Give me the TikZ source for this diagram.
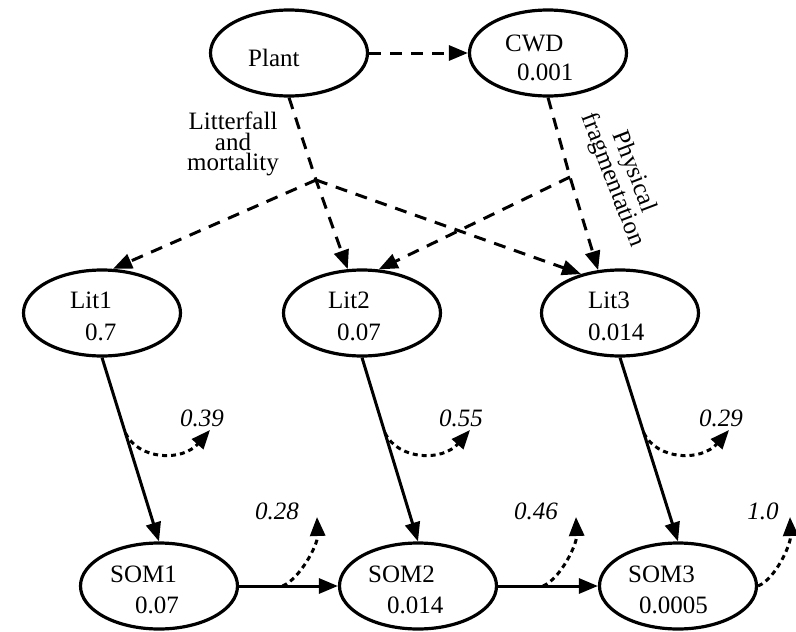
\documentclass[tikz,border=0pt]{standalone}
\usepackage{fontspec}
\setmainfont{Liberation Serif}
\usetikzlibrary{arrows.meta,shapes.geometric}
\begin{document}
\begin{tikzpicture}[x=1pt,y=-1pt,
  pool/.style={draw,ellipse,line width=3.2pt,minimum width=157pt,minimum height=86pt,inner sep=0pt},
  txt/.style={anchor=base west,inner sep=0pt,font=\fontsize{25}{30}\selectfont},
  num/.style={inner sep=0pt,font=\fontsize{25}{30}\selectfont\itshape},
  tipped/.style={-{Triangle[length=19pt,width=15pt]}},
  flux/.style={tipped,line width=3pt},
  transfer/.style={tipped,line width=3pt,dash pattern=on 12pt off 9pt},
  loss/.style={tipped,line width=3pt,dash pattern=on 5pt off 4pt}]
\useasboundingbox (0,0) rectangle (796,632);

% carbon pools
\node[pool] (plant) at (289,53) {};
\node[pool] (cwd)   at (548,53) {};
\node[pool] (lit1)  at (102,313) {};
\node[pool] (lit2)  at (362,313) {};
\node[pool] (lit3)  at (620,313) {};
\node[pool] (som1)  at (159,586) {};
\node[pool] (som2)  at (418,586) {};
\node[pool] (som3)  at (678,586) {};

% pool names and turnover rates
\node[txt] (plantA) at (248,66) {Plant};
\node[txt] (cwdA)  at (505,51) {CWD};
\node[txt] (cwdB)  at (517,80) {0.001};
\node[txt] (lit1A) at (70,308) {Lit1};
\node[txt] (lit1B) at (85,340) {0.7};
\node[txt] (lit2A) at (328,308) {Lit2};
\node[txt] (lit2B) at (337,340) {0.07};
\node[txt] (lit3A) at (588,308) {Lit3};
\node[txt] (lit3B) at (588,340) {0.014};
\node[txt] (som1A) at (110,582) {SOM1};
\node[txt] (som1B) at (135,613) {0.07};
\node[txt] (som2A) at (368,582) {SOM2};
\node[txt] (som2B) at (387,613) {0.014};
\node[txt] (som3A) at (628,582) {SOM3};
\node[txt] (som3B) at (639,613) {0.0005};

% litter inputs
\coordinate (j1) at (316,180);
\coordinate (j2) at (570,177);
\draw[transfer] (plant.east) -- (cwd.west);
\draw[transfer] (plant.south) -- (j1) -- (lit2.108);
\draw[transfer] (j1) -- (lit1.76);
\draw[transfer] (j1) -- (lit3.135);
\draw[transfer] (cwd.south) -- (j2) -- (lit3.117);
\draw[transfer] (j2) -- (lit2.69);

\node[align=center,inner sep=0pt,font=\fontsize{25}{20.5}\selectfont] (litter) at (233,144) {Litterfall\\and\\mortality};
\node[rotate=-69,align=center,inner sep=0pt,font=\fontsize{25}{23}\selectfont] (frag) at (623,176) {Physical\\fragmentation};

% decomposition fluxes
\draw[flux] (lit1.south) -- coordinate[pos=0.41] (b1) (som1.north);
\draw[flux] (lit2.south) -- coordinate[pos=0.41] (b2) (som2.north);
\draw[flux] (lit3.south) -- coordinate[pos=0.41] (b3) (som3.north);
\draw[flux] (som1.east) -- coordinate[pos=0.44] (c1) (som2.west);
\draw[flux] (som2.east) -- coordinate[pos=0.45] (c2) (som3.west);
\coordinate (c3) at (som3.east);

% respired fractions
\coordinate (t1) at (210,430);
\coordinate (t2) at (470,430);
\coordinate (t3) at (729,430);
\draw[loss] (b1) .. controls +(13,27) and +(-28,32) .. (t1);
\draw[loss] (b2) .. controls +(13,27) and +(-28,32) .. (t2);
\draw[loss] (b3) .. controls +(13,27) and +(-28,32) .. (t3);
\node[num] (r1) at (202,418) {0.39};
\node[num] (r2) at (461,418) {0.55};
\node[num] (r3) at (721,418) {0.29};

\coordinate (u1) at (317,517);
\coordinate (u2) at (576,517);
\coordinate (u3) at (790,517);
\draw[loss] (c1) .. controls +(17,-7) and +(1,28) .. (u1);
\draw[loss] (c2) .. controls +(17,-7) and +(1,28) .. (u2);
\draw[loss] (c3) .. controls +(17,-7) and +(1,28) .. (u3);
\node[num] (s1) at (277,511) {0.28};
\node[num] (s2) at (536,511) {0.46};
\node[num] (s3) at (763,511) {1.0};
\end{tikzpicture}
\end{document}
